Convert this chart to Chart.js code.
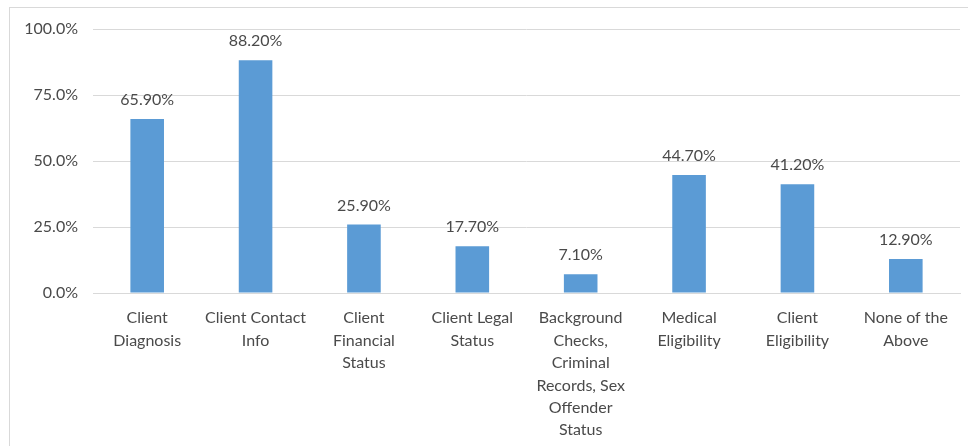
<!DOCTYPE html>
<html>
<head>
<meta charset="utf-8">
<script src="https://cdn.jsdelivr.net/npm/chart.js@4"></script>
<style>
body { margin: 0; background: #fff; }
#wrap { position: absolute; left: 9px; top: 7px; width: 959px; height: 439px; border-left: 1px solid #d9d9d9; border-top: 1px solid #d9d9d9; }
canvas { display: block; }
</style>
</head>
<body>
<div id="wrap"><canvas id="mycanvas" width="958" height="438"></canvas></div>
<script>
var categories = [
	["Client", "Diagnosis"],
	["Client Contact", "Info"],
	["Client", "Financial", "Status"],
	["Client Legal", "Status"],
	["Background", "Checks,", "Criminal", "Records, Sex", "Offender", "Status"],
	["Medical", "Eligibility"],
	["Client", "Eligibility"],
	["None of the", "Above"]
];
var percents = [65.9, 88.2, 25.9, 17.7, 7.1, 44.7, 41.2, 12.9];
var tickValues = [0, 25, 50, 75, 100];

var textColor = "#4a4a4a";
var fontFamily = "Lato, 'Open Sans', sans-serif";

// labels above each bar
var barLabels = {
	id: "barLabels",
	afterDatasetsDraw: function(chart) {
		var ctx = chart.ctx;
		var meta = chart.getDatasetMeta(0);
		ctx.save();
		ctx.fillStyle = textColor;
		ctx.font = "16px " + fontFamily;
		ctx.textAlign = "center";
		ctx.textBaseline = "middle";
		meta.data.forEach(function(bar, i) {
			ctx.fillText(percents[i].toFixed(2) + "%", bar.x, bar.y - 19);
		});
		ctx.restore();
	}
};

var ctx = document.getElementById("mycanvas");
var chart = new Chart(ctx, {
	type: "bar",
	data: {
		labels: categories,
		datasets: [{
			data: percents,
			backgroundColor: "#5b9bd5",
			borderWidth: 0,
			categoryPercentage: 0.62,
			barPercentage: 0.5
		}]
	},
	options: {
		responsive: false,
		animation: false,
		layout: { padding: { top: 21, right: 8, left: 0, bottom: 0 } },
		plugins: { legend: { display: false }, tooltip: { enabled: false } },
		scales: {
			x: {
				grid: { display: false, drawTicks: false },
				border: { color: "#d9d9d9", width: 1 },
				ticks: {
					color: textColor,
					font: { family: fontFamily, size: 16, lineHeight: 1.4 },
					padding: 14,
					maxRotation: 0,
					autoSkip: false
				},
				afterFit: function(scale) { scale.height = 153; }
			},
			y: {
				min: 0,
				max: 100,
				afterBuildTicks: function(scale) {
					scale.ticks = tickValues.map(function(v) { return { value: v }; });
				},
				grid: { color: "#d9d9d9", drawTicks: false },
				border: { display: false },
				ticks: {
					color: textColor,
					font: { family: fontFamily, size: 16, lineHeight: 1 },
					padding: 15,
					callback: function(v) { return v.toFixed(1) + "%"; }
				},
				afterFit: function(scale) {
					scale.width = 83;
					scale.paddingTop = 0;
					scale.paddingBottom = 0;
				}
			}
		}
	},
	plugins: [barLabels]
});
</script>
</body>
</html>
